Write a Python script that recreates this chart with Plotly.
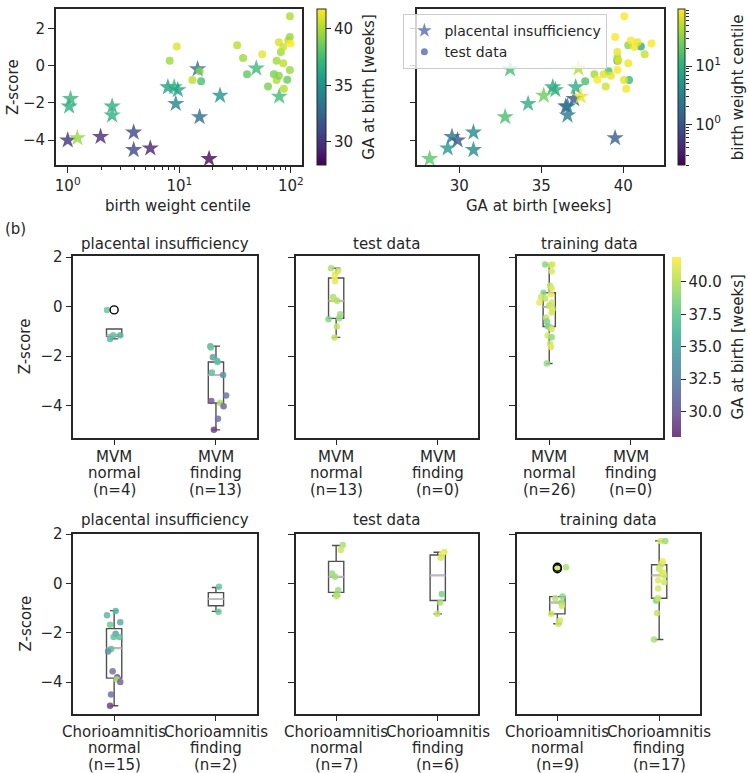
import numpy as np
import plotly.graph_objects as go
import plotly.colors as pc

# ---------------- data: top scatter panels ----------------
# placental insufficiency (stars)
pi_centile = [1.0, 1.22, 1.06, 1.03, 1.97, 2.5, 2.5, 3.9, 3.9, 5.5, 18.5, 7.9, 9.0, 9.7, 9.3, 14.6, 15.2, 23.2, 49, 78.7]
pi_z = [-4.0, -3.88, -1.78, -2.18, -3.81, -2.18, -2.66, -3.58, -4.52, -4.43, -5.0, -1.15, -1.15, -1.3, -2.04, -0.18, -2.75, -1.6, -0.14, -1.65]
pi_ga = [29.9, 39.5, 37.0, 36.5, 29.56, 36.6, 36.6, 30.87, 30.87, 29.3, 28.2, 35.7, 37.1, 35.86, 34.2, 33.1, 32.8, 35.15, 37.27, 37.4]

# test data (circles)
td_centile = [8.2, 9.5, 13.1, 15.2, 15.7, 33, 37.3, 40.5, 55.4, 62.4, 70.5, 74.5, 74.5, 78.1, 78.1, 81.4, 85.4, 85.4, 86.6, 92.8, 94.6, 98, 98, 98, 99.4]
td_z = [0.27, 1.03, -0.77, -0.3, -0.83, 1.1, 0.42, -0.45, 0.62, -1.12, -0.45, 0.27, -0.77, -0.53, 1.26, 0.74, 1.01, 0.14, -1.24, -0.75, 1.36, 2.66, 1.54, -0.23, 1.19]
td_ga = [39.64, 41.07, 40.35, 39.1, 37.68, 40.3, 39.64, 38.24, 41.3, 38.93, 38.8, 39.7, 40.04, 39.24, 40.87, 39.64, 40.67, 40.3, 40.18, 38.42, 40.46, 40.06, 39.5, 39.64, 41.72]

# ---------------- data: (b) box/strip panels ----------------
# stats order: [lowerfence, q1, median, q3, upperfence]
mvm_pi_normal_z = [-0.13, -1.15, -1.15, -1.3]
mvm_pi_normal_ga = [37.27, 35.7, 37.1, 35.86]
mvm_pi_normal_jit = [-0.07, 0.06, -0.01, -0.04]
mvm_pi_normal_stats = [-1.3, -1.19, -1.16, -0.9, -0.9]
mvm_pi_normal_fliers = [-0.13]

mvm_pi_finding_z = [-1.6, -1.65, -2.04, -2.18, -2.23, -2.66, -2.76, -3.58, -3.81, -3.88, -4.02, -4.52, -4.97]
mvm_pi_finding_ga = [35.15, 37.4, 34.2, 36.6, 36.5, 36.6, 32.8, 30.87, 29.56, 39.5, 29.9, 30.87, 28.2]
mvm_pi_finding_jit = [-0.055, -0.05, -0.03, 0.01, 0.015, -0.04, 0.07, 0.1, -0.045, 0.04, 0.075, 0.02, -0.02]
mvm_pi_finding_stats = [-4.97, -3.89, -2.76, -2.23, -1.59]
mvm_pi_finding_fliers = []

mvm_test_normal_z = [1.55, 1.45, 1.3, 1.2, 1.03, 0.39, 0.3, 0.24, -0.31, -0.47, -0.51, -0.8, -1.24]
mvm_test_normal_ga = [39.5, 40.46, 40.87, 41.72, 41.07, 39.64, 40.3, 39.64, 39.1, 38.8, 38.24, 40.04, 40.18]
mvm_test_normal_jit = [-0.05, 0.02, -0.01, -0.016, -0.01, -0.03, -0.02, 0.01, 0.04, 0.03, -0.075, 0.006, -0.016]
mvm_test_normal_stats = [-1.24, -0.47, 0.24, 1.16, 1.55]
mvm_test_normal_fliers = []

mvm_test_finding_z, mvm_test_finding_ga, mvm_test_finding_jit = [], [], []
mvm_test_finding_stats = None
mvm_test_finding_fliers = []

mvm_train_normal_z = [1.7, 1.7, 1.68, 1.43, 0.85, 0.73, 0.56, 0.5, 0.39, 0.33, 0.17, 0.17, 0.05, 0.0, -0.1, -0.23, -0.45, -0.6, -0.78, -0.82, -0.9, -1.16, -1.23, -1.5, -1.63, -2.29]
mvm_train_normal_ga = [38.6, 41.0, 40.6, 40.8, 40.2, 40.9, 38.4, 41.2, 40.5, 40.0, 41.3, 40.7, 39.9, 40.4, 41.0, 40.6, 40.2, 38.3, 38.0, 38.5, 40.9, 40.8, 38.7, 40.5, 40.9, 38.9]
mvm_train_normal_jit = [-0.05, 0.04, 0.02, 0.03, 0.01, 0.03, -0.07, 0.02, -0.1, -0.05, -0.12, 0.03, 0.0, 0.02, 0.04, 0.03, -0.04, -0.03, -0.02, 0.0, 0.03, -0.02, 0.03, 0.01, 0.02, -0.03]
mvm_train_normal_stats = [-2.29, -0.8, 0.0, 0.56, 1.7]
mvm_train_normal_fliers = []

mvm_train_finding_z, mvm_train_finding_ga, mvm_train_finding_jit = [], [], []
mvm_train_finding_stats = None
mvm_train_finding_fliers = []

ch_pi_normal_z = [-1.12, -1.29, -1.57, -1.67, -2.04, -2.17, -2.17, -2.66, -2.76, -3.56, -3.8, -3.9, -4.0, -4.5, -4.96]
ch_pi_normal_ga = [35.7, 35.86, 35.15, 37.4, 34.2, 36.5, 36.6, 36.6, 32.8, 30.87, 29.56, 39.5, 29.9, 30.87, 28.2]
ch_pi_normal_jit = [0.015, -0.07, 0.06, -0.04, 0.015, -0.005, 0.05, -0.03, -0.06, -0.015, 0.03, 0.025, 0.06, -0.03, -0.04]
ch_pi_normal_stats = [-4.96, -3.84, -2.63, -1.83, -1.1]
ch_pi_normal_fliers = []

ch_pi_finding_z = [-0.13, -1.15]
ch_pi_finding_ga = [37.27, 37.1]
ch_pi_finding_jit = [0.03, 0.025]
ch_pi_finding_stats = [-1.13, -0.9, -0.63, -0.37, -0.16]
ch_pi_finding_fliers = []

ch_test_normal_z = [1.56, 1.36, 0.41, 0.27, -0.27, -0.45, -0.52]
ch_test_normal_ga = [39.5, 40.46, 39.0, 39.3, 39.1, 38.24, 40.18]
ch_test_normal_jit = [0.065, 0.045, -0.04, -0.01, 0.02, 0.005, 0.005]
ch_test_normal_stats = [-0.5, -0.36, 0.27, 0.9, 1.54]
ch_test_normal_fliers = []

ch_test_finding_z = [1.28, 1.2, 1.05, -0.43, -0.77, -1.23]
ch_test_finding_ga = [40.9, 41.7, 40.6, 38.0, 39.5, 40.2]
ch_test_finding_jit = [0.065, 0.04, 0.03, 0.04, 0.025, -0.005]
ch_test_finding_stats = [-1.23, -0.69, 0.33, 1.16, 1.27]
ch_test_finding_fliers = []

ch_train_normal_z = [0.66, 0.6, -0.53, -0.6, -0.77, -0.9, -1.23, -1.5, -1.63]
ch_train_normal_ga = [39.5, 40.5, 38.5, 40.0, 39.0, 40.5, 40.5, 40.8, 40.5]
ch_train_normal_jit = [0.085, 0.0, 0.05, -0.02, 0.04, 0.045, -0.06, 0.025, 0.01]
ch_train_normal_stats = [-1.63, -1.23, -0.77, -0.53, -0.53]
ch_train_normal_fliers = [0.6, 0.66]

ch_train_finding_z = [-2.27, -1.2, -0.7, -0.65, -0.6, -0.2, 0.05, 0.13, 0.33, 0.4, 0.45, 0.6, 0.76, 0.8, 0.9, 1.73, 1.73]
ch_train_finding_ga = [39.5, 40.2, 39.0, 38.5, 40.5, 40.8, 40.5, 41.0, 40.0, 40.6, 41.2, 40.3, 40.9, 39.8, 41.5, 41.0, 39.0]
ch_train_finding_jit = [-0.05, -0.02, -0.03, -0.025, -0.01, -0.01, 0.05, -0.01, 0.05, 0.025, 0.04, 0.0, 0.015, 0.03, 0.035, 0.015, 0.06]
ch_train_finding_stats = [-2.27, -0.6, 0.33, 0.76, 1.73]
ch_train_finding_fliers = []

panel_titles = ["placental insufficiency", "test data", "training data"]
row1_prefix = "MVM"
row2_prefix = "Chorioamnitis"
cat_suffix = ["normal", "finding"]

# ---------------- styling helpers ----------------
W, H = 750, 773
INK = "#262626"
FONT = "DejaVu Sans"
FS = 15


def px_x(a, b):
    return [a / W, b / W]


def px_y(top, bottom):
    return [1 - bottom / H, 1 - top / H]


def ann(text, xpx, ypx, angle=0, xanchor="center"):
    return dict(text=text, x=xpx / W, y=1 - ypx / H, xref="paper", yref="paper",
                showarrow=False, textangle=angle, xanchor=xanchor, yanchor="middle",
                font=dict(size=FS, color=INK, family=FONT))


axstyle = dict(showline=True, mirror=True, linecolor=INK, linewidth=1.5, ticks="outside",
               ticklen=6, tickwidth=1.3, tickcolor=INK, showgrid=False, zeroline=False,
               tickfont=dict(size=FS, color=INK, family=FONT))

viridis = pc.sequential.Viridis


def faded(scale, alpha):
    out = []
    n = len(scale)
    for i, c in enumerate(scale):
        r, g, b = pc.hex_to_rgb(c)
        r = round(r * alpha + 255 * (1 - alpha))
        g = round(g * alpha + 255 * (1 - alpha))
        b = round(b * alpha + 255 * (1 - alpha))
        out.append([i / (n - 1), f"rgb({r},{g},{b})"])
    return out


fig = go.Figure()

# ---------------- top-left: Z vs birth weight centile ----------------
fig.add_trace(go.Scatter(x=pi_centile, y=pi_z, mode="markers", xaxis="x", yaxis="y",
                         marker=dict(symbol="star", size=13, color=pi_ga, coloraxis="coloraxis",
                                     opacity=0.8, line=dict(width=0)), showlegend=False))
fig.add_trace(go.Scatter(x=td_centile, y=td_z, mode="markers", xaxis="x", yaxis="y",
                         marker=dict(symbol="circle", size=8, color=td_ga, coloraxis="coloraxis",
                                     opacity=0.8, line=dict(width=0)), showlegend=False))

# ---------------- top-right: Z vs GA ----------------
fig.add_trace(go.Scatter(x=pi_ga, y=pi_z, mode="markers", xaxis="x2", yaxis="y2",
                         marker=dict(symbol="star", size=13, color=np.log10(pi_centile),
                                     coloraxis="coloraxis2", opacity=0.8, line=dict(width=0)),
                         showlegend=False))
fig.add_trace(go.Scatter(x=td_ga, y=td_z, mode="markers", xaxis="x2", yaxis="y2",
                         marker=dict(symbol="circle", size=8, color=np.log10(td_centile),
                                     coloraxis="coloraxis2", opacity=0.8, line=dict(width=0)),
                         showlegend=False))
# legend entries
fig.add_trace(go.Scatter(x=[None], y=[None], mode="markers", xaxis="x2", yaxis="y2",
                         name="placental insufficiency",
                         marker=dict(symbol="star", size=11, color="#5b74b4", opacity=0.85)))
fig.add_trace(go.Scatter(x=[None], y=[None], mode="markers", xaxis="x2", yaxis="y2",
                         name="test data",
                         marker=dict(symbol="circle", size=7, color="#5b74b4", opacity=0.85)))
# helper trace for the log-scale centile colorbar axis
fig.add_trace(go.Scatter(x=[None], y=[None], xaxis="x2", yaxis="y9", showlegend=False,
                         hoverinfo="skip"))

# ---------------- (b) panels ----------------
BOXW = 0.15
rows = [
    (row1_prefix, [
        ("x3", "y3", [(mvm_pi_normal_z, mvm_pi_normal_ga, mvm_pi_normal_jit, mvm_pi_normal_stats, mvm_pi_normal_fliers),
                      (mvm_pi_finding_z, mvm_pi_finding_ga, mvm_pi_finding_jit, mvm_pi_finding_stats, mvm_pi_finding_fliers)]),
        ("x4", "y4", [(mvm_test_normal_z, mvm_test_normal_ga, mvm_test_normal_jit, mvm_test_normal_stats, mvm_test_normal_fliers),
                      (mvm_test_finding_z, mvm_test_finding_ga, mvm_test_finding_jit, mvm_test_finding_stats, mvm_test_finding_fliers)]),
        ("x5", "y5", [(mvm_train_normal_z, mvm_train_normal_ga, mvm_train_normal_jit, mvm_train_normal_stats, mvm_train_normal_fliers),
                      (mvm_train_finding_z, mvm_train_finding_ga, mvm_train_finding_jit, mvm_train_finding_stats, mvm_train_finding_fliers)]),
    ]),
    (row2_prefix, [
        ("x6", "y6", [(ch_pi_normal_z, ch_pi_normal_ga, ch_pi_normal_jit, ch_pi_normal_stats, ch_pi_normal_fliers),
                      (ch_pi_finding_z, ch_pi_finding_ga, ch_pi_finding_jit, ch_pi_finding_stats, ch_pi_finding_fliers)]),
        ("x7", "y7", [(ch_test_normal_z, ch_test_normal_ga, ch_test_normal_jit, ch_test_normal_stats, ch_test_normal_fliers),
                      (ch_test_finding_z, ch_test_finding_ga, ch_test_finding_jit, ch_test_finding_stats, ch_test_finding_fliers)]),
        ("x8", "y8", [(ch_train_normal_z, ch_train_normal_ga, ch_train_normal_jit, ch_train_normal_stats, ch_train_normal_fliers),
                      (ch_train_finding_z, ch_train_finding_ga, ch_train_finding_jit, ch_train_finding_stats, ch_train_finding_fliers)]),
    ]),
]

tick_lines = {}
for prefix, panels in rows:
    for xa, ya, groups in panels:
        lines = []
        for pos, (zs, gas, jit, stats, fliers) in enumerate(groups):
            lines.append((pos, [prefix, cat_suffix[pos], f"(n={len(zs)})"]))
            if stats is not None:
                lf, q1, med, q3, uf = stats
                fig.add_trace(go.Box(x=[pos], q1=[q1], median=[med], q3=[q3], lowerfence=[lf],
                                     upperfence=[uf], width=BOXW, whiskerwidth=0.55,
                                     line=dict(color="#505050", width=1.4),
                                     fillcolor="rgba(255,255,255,0)", boxpoints=False,
                                     xaxis=xa, yaxis=ya, showlegend=False, hoverinfo="skip"))
                fig.add_trace(go.Scatter(x=[pos - BOXW / 2, pos + BOXW / 2], y=[med, med],
                                         mode="lines", line=dict(color="#bdbdbd", width=2),
                                         xaxis=xa, yaxis=ya, showlegend=False, hoverinfo="skip"))
            if len(zs):
                fig.add_trace(go.Scatter(x=[pos + j for j in jit], y=zs, mode="markers",
                                         marker=dict(size=6.5, color=gas, coloraxis="coloraxis3",
                                                     opacity=0.85, line=dict(width=0)),
                                         xaxis=xa, yaxis=ya, showlegend=False))
            if fliers:
                fig.add_trace(go.Scatter(x=[pos] * len(fliers), y=fliers, mode="markers",
                                         marker=dict(symbol="circle-open", size=8, color="black",
                                                     line=dict(width=1.4)),
                                         xaxis=xa, yaxis=ya, showlegend=False))
        tick_lines[xa] = lines

# ---------------- layout ----------------
log_minor_x = [m * 10 ** e for e in (0, 1) for m in range(2, 10)]
log_minor_cb = [m * 10 ** e for e in (-1, 0, 1) for m in range(2, 10)]

layout = dict(
    width=W, height=H, margin=dict(l=0, r=0, t=0, b=0),
    paper_bgcolor="white", plot_bgcolor="white",
    font=dict(family=FONT, size=FS, color=INK),
    boxmode="overlay",
    xaxis=dict(axstyle, domain=px_x(55, 302), anchor="y", type="log", range=[-0.107, 2.098],
               tickvals=[1, 10, 100], ticktext=["10<sup>0</sup>", "10<sup>1</sup>", "10<sup>2</sup>"],
               minor=dict(tickvals=log_minor_x, ticks="outside", ticklen=3, tickwidth=1,
                          tickcolor=INK, showgrid=False)),
    yaxis=dict(axstyle, domain=px_y(1, 159), anchor="x", range=[-5.35, 3.05], tickvals=[-4, -2, 0, 2]),
    xaxis2=dict(axstyle, domain=px_x(418, 666), anchor="y2", range=[27.45, 42.5], tickvals=[30, 35, 40]),
    yaxis2=dict(axstyle, domain=px_y(1, 159), anchor="x2", matches="y", tickvals=[-4, -2, 0, 2],
                showticklabels=False),
    yaxis9=dict(overlaying="y2", anchor="free", position=687 / W, side="right", type="log",
                range=[-0.7, 1.98], tickvals=[1, 10], ticktext=["10<sup>0</sup>", "10<sup>1</sup>"],
                ticks="outside", ticklen=6, tickwidth=1.3, tickcolor=INK, showgrid=False,
                showline=False, zeroline=False, tickfont=dict(size=FS, color=INK, family=FONT),
                minor=dict(tickvals=log_minor_cb, ticks="outside", ticklen=3, tickwidth=1,
                           tickcolor=INK, showgrid=False)),
    coloraxis=dict(colorscale="Viridis", cmin=27.95, cmax=41.75,
                   colorbar=dict(x=317 / W, xanchor="left", xpad=0, ypad=0, y=1 - 1 / H, yanchor="top",
                                 len=158 / H, lenmode="fraction", thickness=9, thicknessmode="pixels",
                                 tickvals=[30, 35, 40], ticks="outside", ticklen=5, tickwidth=1.2,
                                 tickcolor=INK, tickfont=dict(size=FS, color=INK, family=FONT),
                                 outlinewidth=1, outlinecolor=INK)),
    coloraxis2=dict(colorscale="Viridis", cmin=-0.7, cmax=1.98,
                    colorbar=dict(x=680 / W, xanchor="left", xpad=0, ypad=0, y=1 - 1 / H, yanchor="top",
                                  len=158 / H, lenmode="fraction", thickness=7, thicknessmode="pixels",
                                  showticklabels=False, ticks="", outlinewidth=1, outlinecolor=INK)),
    coloraxis3=dict(colorscale=faded(viridis, 0.75), cmin=28.0, cmax=41.9,
                    colorbar=dict(x=674 / W, xanchor="left", xpad=0, ypad=0, y=1 - 252 / H, yanchor="top",
                                  len=182 / H, lenmode="fraction", thickness=9, thicknessmode="pixels",
                                  tickvals=[30, 32.5, 35, 37.5, 40],
                                  ticktext=["30.0", "32.5", "35.0", "37.5", "40.0"],
                                  ticks="outside", ticklen=5, tickwidth=1.2, tickcolor=INK,
                                  tickfont=dict(size=FS, color=INK, family=FONT),
                                  outlinewidth=0)),
    legend=dict(x=404 / W, y=1 - 6 / H, xanchor="left", yanchor="top",
                bgcolor="rgba(255,255,255,0.8)", bordercolor="#cccccc", borderwidth=1,
                font=dict(size=14, color=INK, family=FONT), tracegroupgap=0, itemwidth=30,
                itemsizing="trace"),
)

b_x_domains = {
    "x3": (72.7, 256.7), "x4": (295.7, 479.3), "x5": (517.7, 665),
    "x6": (72.7, 256.7), "x7": (295.7, 479.3), "x8": (517.7, 701.7),
}
b_rows = {"x3": (251, 434), "x4": (251, 434), "x5": (251, 434),
          "x6": (531, 713), "x7": (531, 713), "x8": (531, 713)}
for xa, (a, b) in b_x_domains.items():
    n = xa[1:]
    top, bottom = b_rows[xa]
    layout["xaxis" + n] = dict(axstyle, domain=px_x(a, b), anchor="y" + n, range=[-0.4, 1.4],
                               tickvals=[0, 1], showticklabels=False)
    layout["yaxis" + n] = dict(axstyle, domain=px_y(top, bottom), anchor="x" + n,
                               range=[-5.28, 2.03], tickvals=[-4, -2, 0, 2],
                               showticklabels=(n in ("3", "6")))

annotations = [
    ann("Z-score", 12, 80, -90),
    ann("birth weight centile", 178, 200),
    ann("GA at birth [weeks]", 540, 200),
    ann("GA at birth [weeks]", 370, 80, -90),
    ann("birth weight centile", 740, 80, -90),
    ann("(b)", 2, 223, 0, "left"),
    ann("Z-score", 25, 342, -90),
    ann("Z-score", 25, 622, -90),
    ann("GA at birth [weeks]", 740, 343, -90),
]
for xa, (a, b) in b_x_domains.items():
    first_row = xa in ("x3", "x4", "x5")
    idx = (["x3", "x4", "x5"] if first_row else ["x6", "x7", "x8"]).index(xa)
    ytitle = 238 if first_row else 517
    annotations.append(ann(panel_titles[idx], (a + b) / 2, ytitle))
    # multi-line category labels under each tick
    line_y = [453.3, 470, 486.7] if first_row else [731.5, 748, 764.5]
    for pos, texts in tick_lines[xa]:
        for t, yy in zip(texts, line_y):
            annotations.append(dict(text=t, x=pos, xref=xa, y=1 - yy / H, yref="paper",
                                    showarrow=False, xanchor="center", yanchor="middle",
                                    font=dict(size=FS, color=INK, family=FONT)))
layout["annotations"] = annotations

fig.update_layout(layout)
fig.write_html("out.html", config={"displayModeBar": False},
               post_script="document.body.style.margin='0px';document.body.style.padding='0px';"
                           "document.documentElement.style.overflow='hidden';")
